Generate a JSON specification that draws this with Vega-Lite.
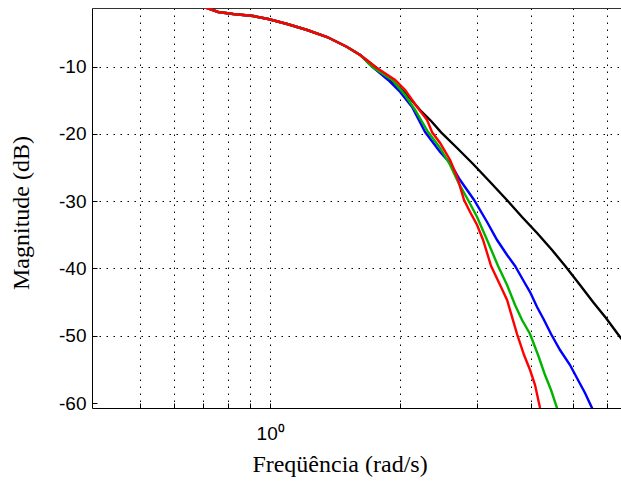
{
  "$schema": "https://vega.github.io/schema/vega-lite/v6.json",
  "width": 529,
  "height": 400,
  "autosize": {"type": "none"},
  "padding": {"left": 92, "top": 8, "right": 0, "bottom": 73},
  "background": "white",
  "config": {"view": {"stroke": null}, "font": "Liberation Sans"},
  "datasets": {
    "curves": [
      {"s":"k","f":0.6534,"db":-0.529},{"s":"k","f":0.7150,"db":-1.273},{"s":"k","f":0.7585,"db":-1.867},{"s":"k","f":0.8214,"db":-2.165},{"s":"k","f":0.9136,"db":-2.462},{"s":"k","f":0.9894,"db":-2.908},{"s":"k","f":1.0946,"db":-3.652},{"s":"k","f":1.2175,"db":-4.544},{"s":"k","f":1.3541,"db":-5.584},{"s":"k","f":1.5060,"db":-7.071},{"s":"k","f":1.6139,"db":-8.260},
      {"s":"k","f":1.7477,"db":-10},{"s":"k","f":1.9238,"db":-12.275},{"s":"k","f":2.0721,"db":-14.208},{"s":"k","f":2.2199,"db":-16.438},{"s":"k","f":2.3542,"db":-18.073},{"s":"k","f":2.4829,"db":-19.753},{"s":"k","f":2.7033,"db":-22.087},{"s":"k","f":2.9434,"db":-24.466},{"s":"k","f":3.2223,"db":-27.142},{"s":"k","f":3.5362,"db":-29.923},{"s":"k","f":3.8195,"db":-32.346},{"s":"k","f":4.1368,"db":-34.725},{"s":"k","f":4.4801,"db":-37.253},{"s":"k","f":4.8000,"db":-39.587},{"s":"k","f":5.1993,"db":-42.457},{"s":"k","f":5.5715,"db":-44.984},{"s":"k","f":5.9697,"db":-47.363},{"s":"k","f":6.3632,"db":-49.787},{"s":"k","f":6.7832,"db":-52.121},

      {"s":"b","f":0.6534,"db":-0.529},{"s":"b","f":0.7150,"db":-1.273},{"s":"b","f":0.7585,"db":-1.867},{"s":"b","f":0.8214,"db":-2.165},{"s":"b","f":0.9136,"db":-2.462},{"s":"b","f":0.9894,"db":-2.908},{"s":"b","f":1.0946,"db":-3.652},{"s":"b","f":1.2175,"db":-4.544},{"s":"b","f":1.3541,"db":-5.584},{"s":"b","f":1.5060,"db":-7.071},{"s":"b","f":1.6139,"db":-8.260},
      {"s":"b","f":1.7201,"db":-10},{"s":"b","f":1.8733,"db":-11.977},{"s":"b","f":1.9967,"db":-13.761},{"s":"b","f":2.1279,"db":-15.992},{"s":"b","f":2.2803,"db":-19.709},{"s":"b","f":2.4698,"db":-22.682},{"s":"b","f":2.6047,"db":-24.317},{"s":"b","f":2.7467,"db":-26.845},{"s":"b","f":2.9592,"db":-29.819},{"s":"b","f":3.1711,"db":-33.090},{"s":"b","f":3.3442,"db":-35.766},{"s":"b","f":3.5268,"db":-37.996},{"s":"b","f":3.6801,"db":-39.632},{"s":"b","f":3.8399,"db":-41.714},{"s":"b","f":3.9855,"db":-43.498},{"s":"b","f":4.1368,"db":-45.728},{"s":"b","f":4.2934,"db":-47.661},{"s":"b","f":4.4563,"db":-49.742},{"s":"b","f":4.6749,"db":-52.121},{"s":"b","f":4.9299,"db":-54.351},{"s":"b","f":5.1444,"db":-56.581},{"s":"b","f":5.3394,"db":-58.514},{"s":"b","f":5.5420,"db":-60.745},{"s":"b","f":5.6013,"db":-61.79},

      {"s":"g","f":0.6534,"db":-0.529},{"s":"g","f":0.7150,"db":-1.273},{"s":"g","f":0.7585,"db":-1.867},{"s":"g","f":0.8214,"db":-2.165},{"s":"g","f":0.9136,"db":-2.462},{"s":"g","f":0.9894,"db":-2.908},{"s":"g","f":1.0946,"db":-3.652},{"s":"g","f":1.2175,"db":-4.544},{"s":"g","f":1.3541,"db":-5.584},{"s":"g","f":1.5060,"db":-7.071},{"s":"g","f":1.6139,"db":-8.260},
      {"s":"g","f":1.7201,"db":-10},{"s":"g","f":1.9136,"db":-11.977},{"s":"g","f":2.0504,"db":-14.208},{"s":"g","f":2.1622,"db":-16.438},{"s":"g","f":2.3170,"db":-19.709},{"s":"g","f":2.4698,"db":-22.087},{"s":"g","f":2.6047,"db":-24.614},{"s":"g","f":2.7177,"db":-27.142},{"s":"g","f":2.8661,"db":-29.819},{"s":"g","f":3.0067,"db":-32.346},{"s":"g","f":3.1711,"db":-35.766},{"s":"g","f":3.3621,"db":-39.632},{"s":"g","f":3.5268,"db":-42.457},{"s":"g","f":3.6801,"db":-45.430},{"s":"g","f":3.8195,"db":-47.661},{"s":"g","f":3.9855,"db":-49.742},{"s":"g","f":4.1589,"db":-52.864},{"s":"g","f":4.3163,"db":-55.838},{"s":"g","f":4.4563,"db":-58.069},{"s":"g","f":4.6010,"db":-60.745},{"s":"g","f":4.6502,"db":-61.79},

      {"s":"r","f":0.6534,"db":-0.529},{"s":"r","f":0.7150,"db":-1.273},{"s":"r","f":0.7585,"db":-1.867},{"s":"r","f":0.8214,"db":-2.165},{"s":"r","f":0.9136,"db":-2.462},{"s":"r","f":0.9894,"db":-2.908},{"s":"r","f":1.0946,"db":-3.652},{"s":"r","f":1.2175,"db":-4.544},{"s":"r","f":1.3541,"db":-5.584},{"s":"r","f":1.5060,"db":-7.071},{"s":"r","f":1.6139,"db":-8.260},
      {"s":"r","f":1.7477,"db":-10},{"s":"r","f":1.9443,"db":-11.977},{"s":"r","f":2.0504,"db":-13.464},{"s":"r","f":2.1853,"db":-15.992},{"s":"r","f":2.3047,"db":-17.925},{"s":"r","f":2.3668,"db":-19.753},{"s":"r","f":2.4698,"db":-21.344},{"s":"r","f":2.6047,"db":-23.871},{"s":"r","f":2.7033,"db":-26.399},{"s":"r","f":2.8058,"db":-29.819},{"s":"r","f":2.8968,"db":-31.603},{"s":"r","f":3.0067,"db":-33.536},{"s":"r","f":3.1042,"db":-35.766},{"s":"r","f":3.2393,"db":-39.632},{"s":"r","f":3.3981,"db":-42.457},{"s":"r","f":3.5268,"db":-44.687},{"s":"r","f":3.7195,"db":-49.742},{"s":"r","f":3.8603,"db":-52.864},{"s":"r","f":3.9855,"db":-55.094},{"s":"r","f":4.0930,"db":-57.325},{"s":"r","f":4.2033,"db":-60.745},{"s":"r","f":4.2483,"db":-61.79}
    ]
  },
  "data": {"name": "curves"},
  "encoding": {
    "y": {
      "field": "db", "type": "quantitative",
      "scale": {"domain": [-60.74, -1.273], "nice": false, "zero": false},
      "axis": {
        "values": [-60, -50, -40, -30, -20, -10],
        "labelExpr": "'' + datum.value",
        "grid": true, "gridColor": "#000000", "gridDash": [1.5, 5.5], "gridWidth": 1,
        "gridOpacity": {"condition": {"test": "datum.value == -60", "value": 0}, "value": 1},
        "domainColor": "#000000", "domainWidth": 1,
        "tickColor": "#000000", "tickSize": -5, "tickWidth": 1,
        "labelFont": "Liberation Sans", "labelFontSize": 19, "labelColor": "#000000", "labelPadding": 11,
        "title": "Magnitude (dB)",
        "titleFont": "Liberation Serif", "titleFontSize": 24, "titleFontWeight": "normal", "titleColor": "#000000",
        "titleX": -64, "titleY": 204.5, "titleAngle": 270, "titleBaseline": "alphabetic", "titleAlign": "center", "titleAnchor": null
      }
    }
  },
  "layer": [
    {
      "transform": [{"filter": "datum.s == 'k'"}],
      "mark": {"type": "line", "color": "#000000", "strokeWidth": 2.4, "clip": true},
      "encoding": {
        "x": {
          "field": "f", "type": "quantitative",
          "scale": {"type": "log", "domain": [0.3875, 6.466], "nice": false, "zero": false},
          "axis": {
            "orient": "bottom",
            "values": [0.5, 0.6, 0.7, 0.8, 0.9, 1, 2, 3, 4, 5, 6],
            "labelExpr": "datum.value == 1 ? '10⁰' : ''",
            "grid": true, "gridColor": "#000000", "gridDash": [1.5, 5.5], "gridWidth": 1, "gridOpacity": 1,
            "domainColor": "#000000", "domainWidth": 1,
            "tickColor": "#000000", "tickSize": -5, "tickWidth": 1,
            "labelFont": "Liberation Sans", "labelFontSize": 19, "labelColor": "#000000",
            "labelPadding": 21, "labelFlush": false, "labelOverlap": false,
            "title": "Freqüência (rad/s)",
            "titleFont": "Liberation Serif", "titleFontSize": 24, "titleFontWeight": "normal", "titleColor": "#000000",
            "titleX": 247.5, "titleY": 63, "titleBaseline": "alphabetic", "titleAlign": "center", "titleAnchor": null
          }
        }
      }
    },
    {
      "transform": [{"filter": "datum.s == 'b'"}],
      "mark": {"type": "line", "color": "#0000ff", "strokeWidth": 2.4, "clip": true},
      "encoding": {
        "x": {"field": "f", "type": "quantitative", "axis": null}
      }
    },
    {
      "transform": [{"filter": "datum.s == 'g'"}],
      "mark": {"type": "line", "color": "#00b300", "strokeWidth": 2.4, "clip": true},
      "encoding": {
        "x": {"field": "f", "type": "quantitative", "axis": null}
      }
    },
    {
      "transform": [{"filter": "datum.s == 'r'"}],
      "mark": {"type": "line", "color": "#ff0000", "strokeWidth": 2.4, "clip": true},
      "encoding": {
        "x": {"field": "f", "type": "quantitative", "axis": null}
      }
    },
    {
      "transform": [{"filter": "datum.s == 'k'"}],
      "mark": {"type": "line", "opacity": 0, "clip": true},
      "encoding": {
        "x": {"field": "f", "type": "quantitative",
          "axis": {"orient": "top", "labels": false, "ticks": false, "grid": false, "domain": true, "domainColor": "#333333", "domainWidth": 1.2, "title": null}}
      }
    }
  ],
  "resolve": {"axis": {"x": "independent"}}
}
